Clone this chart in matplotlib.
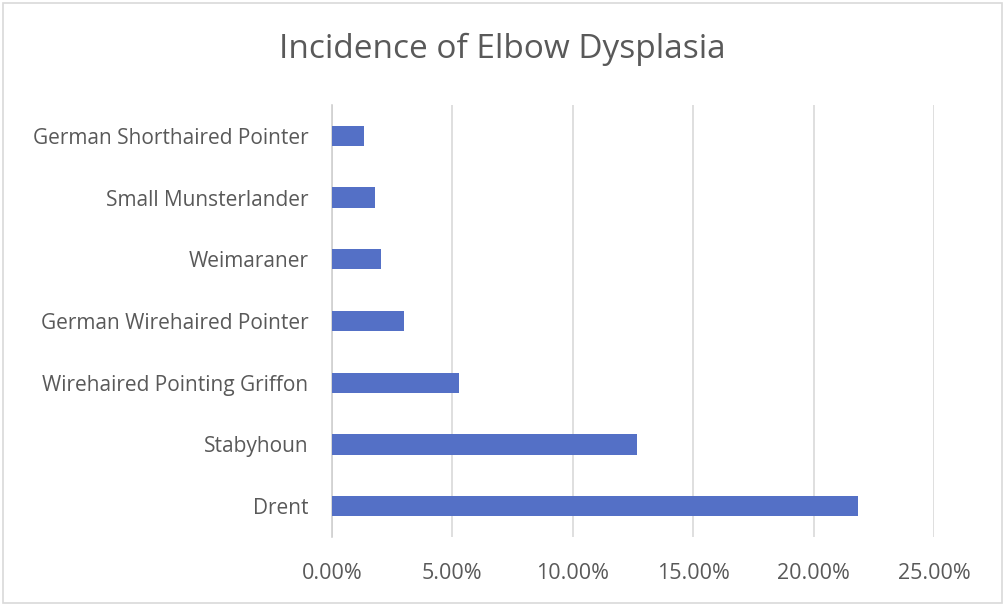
import matplotlib.pyplot as plt
from matplotlib.patches import Rectangle
from matplotlib.ticker import FuncFormatter

breeds = ['Drent', 'Stabyhoun', 'Wirehaired Pointing Griffon',
          'German Wirehaired Pointer', 'Weimaraner',
          'Small Munsterlander', 'German Shorthaired Pointer']
incidence = [0.2186, 0.1266, 0.0529, 0.0298, 0.0202, 0.0178, 0.0131]
x_ticks = [0.0, 0.05, 0.10, 0.15, 0.20, 0.25]

plt.rcParams['font.family'] = ['Open Sans', 'DejaVu Sans']
text_color = '#595959'

fig = plt.figure(figsize=(10.05, 6.05), dpi=100)
W, H = 1005, 605
ax = fig.add_axes([332 / W, 1 - 537 / H, (934 - 332) / W, (537 - 105) / H])

ax.barh(range(len(breeds)), incidence, height=0.33, color='#5470c6', zorder=3)

# Axes setup
ax.set_xlim(0, 0.25)
ax.set_ylim(-0.5, len(breeds) - 0.5)
ax.set_xticks(x_ticks)
ax.xaxis.set_major_formatter(FuncFormatter(lambda v, p: f'{v * 100:.2f}%'))
ax.set_yticks(range(len(breeds)))
ax.set_yticklabels(breeds)
ax.tick_params(axis='both', length=0, labelcolor=text_color)
ax.tick_params(axis='x', pad=19, labelsize=15.5)
ax.tick_params(axis='y', pad=17, labelsize=15)
ax.grid(axis='x', color='#d9d9d9', linewidth=1.2, zorder=0)
for side in ['top', 'right', 'bottom']:
    ax.spines[side].set_visible(False)
ax.spines['left'].set_color('#d0d0d0')
ax.spines['left'].set_linewidth(1.2)

fig.text(0.5, 1 - 49 / H, 'Incidence of Elbow Dysplasia', ha='center', va='center',
         fontsize=24, color=text_color)

# chart border
fig.patches.append(Rectangle((3 / W, 2 / H), 1 - 6 / W, 1 - 5 / H, transform=fig.transFigure,
                             fill=False, edgecolor='#d9d9d9', linewidth=1.2))

plt.savefig('out.png', dpi=100)
